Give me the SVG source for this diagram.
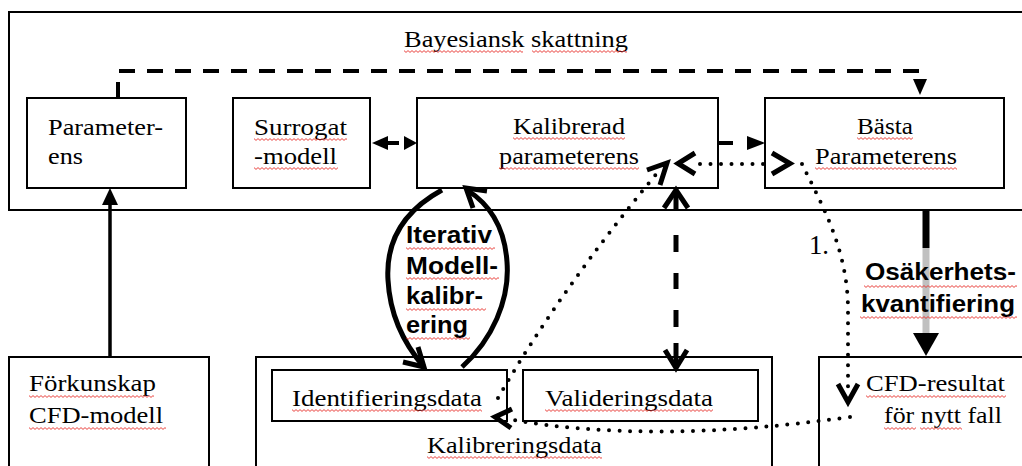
<svg xmlns="http://www.w3.org/2000/svg" width="1022" height="466" viewBox="0 0 1022 466">
<defs>
<pattern id="wave" width="4" height="3" patternUnits="userSpaceOnUse"><path d="M0,0.6 L2,2.4 L4,0.6" fill="none" stroke="#e8302a" stroke-width="0.9"/></pattern>
</defs>
<style>
.box{fill:#fff;stroke:#000;stroke-width:2}
.t{font-family:"Liberation Serif","Times New Roman",serif;font-size:23px;fill:#000}
.t2{font-family:"Liberation Serif","Times New Roman",serif;font-size:24px;fill:#000}
.b{font-family:"Liberation Sans",Arial,sans-serif;font-weight:bold;font-size:23px;fill:#000}
.sq{fill:url(#wave)}
.dot{fill:none;stroke:#000;stroke-width:4;stroke-linecap:round;stroke-dasharray:0 10.5}
.chev{fill:none;stroke:#000;stroke-width:5;stroke-linejoin:miter}
.ln{fill:none;stroke:#000;stroke-width:4}
.arc{fill:none;stroke:#000;stroke-width:5}
</style>
<rect width="1022" height="466" fill="#fff"/>
<g id="bayes">
<rect class="box" x="9" y="12" width="1030" height="198"/>
<text class="t" x="404" y="47" textLength="224" lengthAdjust="spacingAndGlyphs">Bayesiansk skattning</text>
<rect class="sq" transform="translate(404,50)" width="119" height="3"/>
<rect class="sq" transform="translate(532,50)" width="95" height="3"/>
</g>
<g id="parameterens">
<rect class="box" x="27" y="98" width="159" height="90"/>
<text class="t" x="48" y="135" textLength="115" lengthAdjust="spacingAndGlyphs">Parameter-</text>
<text class="t" x="48" y="164" textLength="35" lengthAdjust="spacingAndGlyphs">ens</text>
</g>
<g id="surrogat">
<rect class="box" x="233" y="98" width="137" height="90"/>
<text class="t" x="254" y="135" textLength="93" lengthAdjust="spacingAndGlyphs">Surrogat</text>
<text class="t" x="254" y="164" textLength="83" lengthAdjust="spacingAndGlyphs">-modell</text>
<rect class="sq" transform="translate(254,138)" width="93" height="3"/>
<rect class="sq" transform="translate(254,167)" width="84" height="3"/>
</g>
<g id="kalibrerad">
<rect class="box" x="417" y="98" width="301" height="90"/>
<text class="t" x="513" y="134" textLength="112" lengthAdjust="spacingAndGlyphs">Kalibrerad</text>
<text class="t" x="499" y="164" textLength="140" lengthAdjust="spacingAndGlyphs">parameterens</text>
<rect class="sq" transform="translate(513,137)" width="112" height="3"/>
<rect class="sq" transform="translate(499,167)" width="140" height="3"/>
</g>
<g id="basta">
<rect class="box" x="765" y="98" width="239" height="90"/>
<text class="t" x="857" y="134" textLength="56" lengthAdjust="spacingAndGlyphs">Bästa</text>
<text class="t" x="815" y="164" textLength="142" lengthAdjust="spacingAndGlyphs">Parameterens</text>
<rect class="sq" transform="translate(857,137)" width="56" height="3"/>
<rect class="sq" transform="translate(815,167)" width="142" height="3"/>
</g>
<g id="forkunskap">
<rect class="box" x="9" y="357" width="200" height="120"/>
<text class="t2" x="29" y="391" textLength="127" lengthAdjust="spacingAndGlyphs">Förkunskap</text>
<text class="t2" x="29" y="423" textLength="134" lengthAdjust="spacingAndGlyphs">CFD-modell</text>
<rect class="sq" transform="translate(29,395)" width="125" height="3"/>
<rect class="sq" transform="translate(29,427)" width="137" height="3"/>
</g>
<g id="kalibreringsdata">
<rect class="box" x="256" y="357" width="516" height="120"/>
<text class="t2" x="427" y="453" textLength="175" lengthAdjust="spacingAndGlyphs">Kalibreringsdata</text>
<rect class="sq" transform="translate(427,456)" width="175" height="3"/>
</g>
<g id="identifieringsdata">
<rect class="box" x="272" y="370" width="235" height="51"/>
<text class="t2" x="292" y="406" textLength="190" lengthAdjust="spacingAndGlyphs">Identifieringsdata</text>
<rect class="sq" transform="translate(292,409)" width="190" height="3"/>
</g>
<g id="valideringsdata">
<rect class="box" x="523" y="370" width="235" height="51"/>
<text class="t2" x="545" y="406" textLength="168" lengthAdjust="spacingAndGlyphs">Valideringsdata</text>
<rect class="sq" transform="translate(545,409)" width="168" height="3"/>
</g>
<g id="cfdresultat">
<rect class="box" x="819" y="357" width="220" height="120"/>
<text class="t2" x="866" y="391" textLength="139" lengthAdjust="spacingAndGlyphs">CFD-resultat</text>
<text class="t2" x="884" y="423" textLength="118" lengthAdjust="spacingAndGlyphs">för nytt fall</text>
<rect class="sq" transform="translate(866,395)" width="140" height="3"/>
<rect class="sq" transform="translate(884,427)" width="32" height="3"/>
<rect class="sq" transform="translate(920,427)" width="42" height="3"/>
</g>
<g id="connectors">
<path d="M118,98 V71 H922" fill="none" stroke="#000" stroke-width="4" stroke-dasharray="16 12"/>
<polygon points="913,79 927,79 920,95"/>
<polygon points="372,143 388,136 388,150"/>
<line class="ln" x1="388" y1="143" x2="399" y2="143"/>
<polygon points="417,143 404,136 404,150"/>
<line class="ln" x1="718" y1="143" x2="733" y2="143"/>
<polygon points="765,143 747,136 747,150"/>
<path class="dot" d="M700,164 H770"/>
<path class="chev" d="M695,153 L678,163.5 L695,174"/>
<path class="chev" d="M772,153 L790,163.5 L772,174"/>
<path class="dot" d="M498,398 Q560,290 658,172"/>
<path class="chev" d="M647,170 L667,163 L660,185"/>
<path class="dot" d="M802,164 C822,205 848,250 848,310 L848,392"/>
<path class="chev" d="M838,384 L848,402 L858,384"/>
<path class="dot" d="M850,417 Q650,445 508,419"/>
<path class="chev" d="M512,409 L495,417 L511,428"/>
<g stroke="#000" stroke-width="5">
<line x1="676" y1="190" x2="676" y2="210"/>
<line x1="676" y1="235" x2="676" y2="252"/>
<line x1="676" y1="273" x2="676" y2="289"/>
<line x1="676" y1="310" x2="676" y2="327"/>
<line x1="676" y1="343" x2="676" y2="368"/>
</g>
<path class="chev" d="M664,208 L676,190 L688,208"/>
<path class="chev" d="M665,350 L676,368 L687,350"/>
<line x1="110" y1="357" x2="110" y2="204" stroke="#000" stroke-width="3.5"/>
<polygon points="110,188 102,205 118,205"/>
<path class="arc" d="M442,190 C398,214 386,248 388,280 C390,318 405,345 424,367"/>
<path class="chev" d="M403,362 L424,367 L418,347"/>
<path class="arc" d="M462,367 C492,340 510,300 507,262 C505,232 494,207 467,190"/>
<path class="chev" d="M487,191 L466,188 L473,208"/>
<rect x="922.5" y="210" width="7" height="38" fill="#000"/>
<rect x="922.5" y="248" width="7" height="86" fill="#c0c0c0"/>
<polygon points="913,333 939,333 926,356"/>
</g>
<g id="labels">
<text x="809" y="254" font-family="Liberation Serif, Times New Roman, serif" font-size="28" textLength="20" lengthAdjust="spacingAndGlyphs">1.</text>
<text class="b" x="406" y="243" textLength="86" lengthAdjust="spacingAndGlyphs">Iterativ</text>
<text class="b" x="406" y="274" textLength="92" lengthAdjust="spacingAndGlyphs">Modell-</text>
<text class="b" x="406" y="304" textLength="77" lengthAdjust="spacingAndGlyphs">kalibr-</text>
<text class="b" x="406" y="333" textLength="62" lengthAdjust="spacingAndGlyphs">ering</text>
<rect class="sq" transform="translate(406,247)" width="89" height="3"/>
<rect class="sq" transform="translate(406,277)" width="93" height="3"/>
<rect class="sq" transform="translate(406,308)" width="80" height="3"/>
<rect class="sq" transform="translate(406,337)" width="64" height="3"/>
<text class="b" x="865" y="280" textLength="151" lengthAdjust="spacingAndGlyphs">Osäkerhets-</text>
<text class="b" x="861" y="312" textLength="154" lengthAdjust="spacingAndGlyphs">kvantifiering</text>
<rect class="sq" transform="translate(864,285)" width="153" height="3"/>
<rect class="sq" transform="translate(860,316)" width="157" height="3"/>
</g>
</svg>
